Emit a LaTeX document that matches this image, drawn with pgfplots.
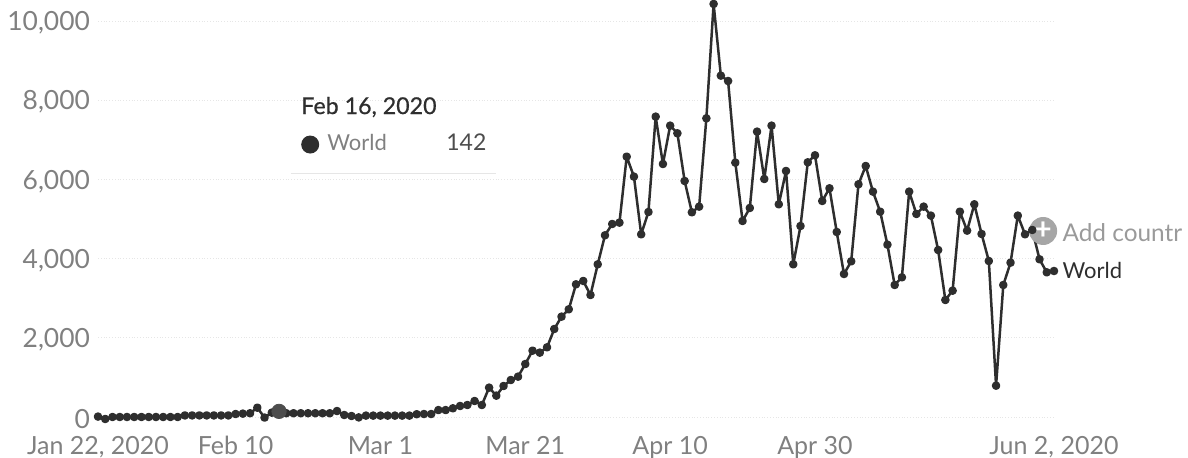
\documentclass[border=0pt]{standalone}
\usepackage{fontspec}
\setmainfont{Lato}
\usepackage{pgfplots}
\pgfplotsset{compat=1.18}
\definecolor{linecol}{HTML}{2E2E2E}
\definecolor{labelcol}{HTML}{808080}
\definecolor{gridcol}{HTML}{E6E6E6}
% day 0 = Jan 22, 2020; 1 px = 0.5pt
\begin{document}
\begin{tikzpicture}[x=1pt,y=1pt]
\useasboundingbox (0,0) rectangle (594,229);
\begin{axis}[
    at={(49pt,20.5pt)},
    anchor=south west,
    scale only axis,
    width=478pt,
    height=198pt,
    xmin=0, xmax=132,
    ymin=0, ymax=10000,
    clip=false,
    axis line style={draw=none},
    tick style={draw=none},
    xtick={0,19,39,59,79,99,132},
    xticklabels={{Jan 22, 2020},{Feb 10},{Mar 1},{Mar 21},{Apr 10},{Apr 30},{Jun 2, 2020}},
    ytick={0,2000,4000,6000,8000,10000},
    scaled y ticks=false,
    ymajorgrids,
    grid style={gridcol,densely dotted,line width=0.4pt},
    /pgf/number format/assume math mode=true,
    /pgf/number format/1000 sep={,},
    /pgf/number format/fixed,
    ticklabel style={text=labelcol,font=\fontsize{12.5}{14}\selectfont},
    xticklabel style={yshift=-6pt},
    yticklabel style={xshift=-0.5pt,yshift=-1pt,font=\fontsize{13.2}{15}\selectfont},
]
\addplot[linecol,line width=1.25pt,line join=round,mark=*,mark size=1.5pt,mark options={fill=linecol,draw=linecol}]
coordinates {
(0,10)(1,-50)(2,0)(3,0)(4,0)(5,0)(6,0)(7,0)(8,0)(9,0)(10,0)(11,0)
(12,40)(13,40)(14,40)(15,40)(16,40)(17,40)(18,40)(19,75)(20,85)(21,95)
(22,235)(23,-15)(24,110)(25,142)(26,95)(27,95)(28,95)(29,95)(30,95)(31,95)(32,95)
(33,150)(34,50)(35,25)(36,-10)(37,35)(38,35)(39,35)(40,35)(41,35)(42,35)(43,35)
(44,70)(45,75)(46,75)(47,175)(48,175)
(49,219)(50,278)(51,303)(52,404)(53,303)(54,741)(55,539)(56,783)(57,934)(58,1019)
(59,1338)(60,1675)(61,1625)(62,1759)(63,2222)(64,2534)(65,2719)(66,3350)(67,3435)(68,3081)
(69,3855)(70,4588)(71,4874)(72,4908)(73,6574)(74,6070)(75,4613)(76,5177)(77,7585)(78,6389)
(79,7357)(80,7164)(81,5960)(82,5169)(83,5312)(84,7542)(85,10430)(86,8620)(87,8485)(88,6423)
(89,4950)(90,5278)(91,7206)(92,6010)(93,7357)(94,5371)(95,6213)(96,3855)(97,4823)(98,6431)
(99,6608)(100,5455)(101,5775)(102,4672)(103,3611)(104,3931)(105,5876)(106,6339)(107,5691)(108,5185)
(109,4352)(110,3334)(111,3527)(112,5691)(113,5127)(114,5312)(115,5085)(116,4217)(117,2955)(118,3190)
(119,5185)(120,4706)(121,5371)(122,4622)(123,3940)(124,791)(125,3334)(126,3898)(127,5085)(128,4613)
(129,4723)(130,3982)(131,3653)(132,3687)
};
% hovered point
\addplot[only marks,mark=*,mark size=3.6pt,mark options={fill=linecol!85,draw=linecol!85}]
coordinates {(25,142)};
% tooltip
\node[anchor=base west,text=linecol,font=\fontsize{11.6}{13}\selectfont\addfontfeatures{FakeBold=0.6}]
  at (axis cs:27.1,7650) {Feb 16, 2020};
\node[circle,fill=linecol,inner sep=0pt,minimum size=9pt] at (axis cs:29.3,6880) {};
\node[anchor=base west,text=labelcol,font=\fontsize{11}{13}\selectfont]
  at (axis cs:30.7,6730) {World};
\node[anchor=base east,text=linecol!85,font=\fontsize{11.5}{13}\selectfont]
  at (axis cs:54.6,6730) {142};
\draw[gridcol,line width=0.5pt] (axis cs:26.6,6150) -- (axis cs:55,6150);
% right side labels
\node[circle,fill=labelcol!70,inner sep=0pt,minimum size=14pt] (plusicon) at (axis cs:130.5,4697) {};
\node[text=white,font=\bfseries\fontsize{15}{15}\selectfont,inner sep=0pt] at (plusicon.center) {+};
\node[anchor=base west,text=labelcol!80,font=\fontsize{12.2}{14}\selectfont]
  at (axis cs:132.2,4440) {Add countr};
\node[anchor=base west,text=linecol,font=\fontsize{11}{13}\selectfont]
  at (axis cs:132.2,3500) {World};
\end{axis}
\end{tikzpicture}
\end{document}
